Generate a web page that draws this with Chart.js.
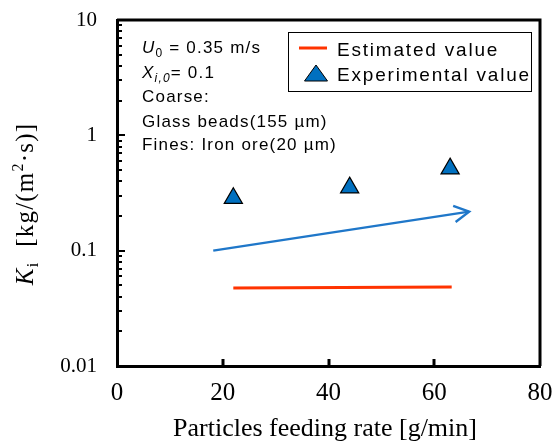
<!DOCTYPE html>
<html>
<head>
<meta charset="utf-8">
<script src="https://cdn.jsdelivr.net/npm/chart.js@4.4.1/dist/chart.umd.min.js"></script>
<style>
  html, body { margin: 0; padding: 0; background: #fff; overflow: hidden; }
  #wrap { width: 552px; height: 441px; position: relative; }
</style>
</head>
<body>
<div id="wrap"><canvas id="kiChart"></canvas></div>
<script>
const feedRates = [22, 44, 63];
const experimental = [0.285, 0.352, 0.514];
const estimatedX = [22, 63.3];
const estimatedY = [0.0475, 0.0485];
const arrowX = [18.2, 66.6];
const arrowY = [0.1, 0.218];
const xTicks = [0, 20, 40, 60, 80];
const yTicks = [0.01, 0.1, 1, 10];
const yTickLabels = ['0.01', '0.1', '1', '10'];

const serif = '"Liberation Serif", "Times New Roman", serif';
const sans = '"Liberation Sans", Arial, sans-serif';

// inward ticks, arrow head, legend box, annotation and axis titles
const decor = {
    id: 'decor',
    afterDraw(chart) {
        const c = chart.ctx, a = chart.chartArea;
        const xs = chart.scales.x, ys = chart.scales.y;
        c.save();
        c.strokeStyle = '#000';
        c.lineWidth = 2;
        for (let d = 0.01; d < 9; d *= 10) {
            for (let m = 1; m <= 9; m++) {
                const py = Math.round(ys.getPixelForValue(d * m));
                const len = m === 1 ? 8 : 5;
                c.beginPath();
                c.moveTo(a.left, py);
                c.lineTo(a.left + len, py);
                c.stroke();
            }
        }
        c.lineWidth = 3;
        xTicks.slice(1, -1).forEach(v => {
            const px = Math.round(xs.getPixelForValue(v));
            c.beginPath();
            c.moveTo(px, a.bottom);
            c.lineTo(px, a.bottom - 7);
            c.stroke();
        });

        // top and right frame
        c.beginPath();
        c.moveTo(a.left, a.top);
        c.lineTo(a.right, a.top);
        c.lineTo(a.right, a.bottom);
        c.stroke();

        // arrow head
        const x1 = xs.getPixelForValue(arrowX[0]), y1 = ys.getPixelForValue(arrowY[0]);
        const x2 = xs.getPixelForValue(arrowX[1]), y2 = ys.getPixelForValue(arrowY[1]);
        const ang = Math.atan2(y2 - y1, x2 - x1);
        c.strokeStyle = '#1f77c9';
        c.lineWidth = 2.4;
        c.beginPath();
        c.moveTo(x2 - 17 * Math.cos(ang - 0.5), y2 - 17 * Math.sin(ang - 0.5));
        c.lineTo(x2, y2);
        c.lineTo(x2 - 17 * Math.cos(ang + 0.5), y2 - 17 * Math.sin(ang + 0.5));
        c.stroke();

        // legend
        c.strokeStyle = '#000';
        c.lineWidth = 1;
        c.strokeRect(288.5, 32.5, 243, 59);
        c.strokeStyle = '#ff3300';
        c.lineWidth = 3;
        c.beginPath();
        c.moveTo(299, 48);
        c.lineTo(327, 48);
        c.stroke();
        c.fillStyle = '#0070c0';
        c.strokeStyle = '#000';
        c.lineWidth = 1;
        c.beginPath();
        c.moveTo(316, 65);
        c.lineTo(327.5, 81);
        c.lineTo(304.5, 81);
        c.closePath();
        c.fill();
        c.stroke();
        c.fillStyle = '#000';
        c.textAlign = 'left';
        c.textBaseline = 'alphabetic';
        c.font = '19px ' + sans;
        c.letterSpacing = '1.8px';
        c.fillText('Estimated value', 337, 56);
        c.fillText('Experimental value', 337, 81);

        // annotation
        c.letterSpacing = '1.2px';
        let x = 142;
        c.font = 'italic 17px ' + sans;
        c.fillText('U', x, 53); x += c.measureText('U').width;
        c.font = '12px ' + sans;
        c.fillText('0', x, 57); x += c.measureText('0').width;
        c.font = '17px ' + sans;
        c.fillText(' = 0.35 m/s', x, 53);
        x = 142;
        c.font = 'italic 17px ' + sans;
        c.fillText('X', x, 78); x += c.measureText('X').width;
        c.font = 'italic 12px ' + sans;
        c.fillText('i,0', x, 82); x += c.measureText('i,0').width;
        c.font = '17px ' + sans;
        c.fillText('= 0.1', x, 78);
        c.fillText('Coarse:', 142, 102);
        c.fillText('Glass beads(155 \u00b5m)', 142, 127);
        c.fillText('Fines: Iron ore(20 \u00b5m)', 142, 150);

        // y title
        c.save();
        c.translate(33, 204);
        c.rotate(-Math.PI / 2);
        c.letterSpacing = '1.2px';
        const parts = [
            ['italic 25px ' + serif, 'K', 0],
            ['16px ' + serif, 'i', 5],
            ['25px ' + serif, '  [kg/(m', 0],
            ['16px ' + serif, '2', -10],
            ['25px ' + serif, '\u00b7s)]', 0]
        ];
        let w = 0;
        parts.forEach(p => { c.font = p[0]; w += c.measureText(p[1]).width; });
        let px = -w / 2;
        parts.forEach(p => {
            c.font = p[0];
            c.fillText(p[1], px, p[2]);
            px += c.measureText(p[1]).width;
        });
        c.restore();

        // x title
        c.letterSpacing = '0px';
        c.font = '26px ' + serif;
        c.textAlign = 'center';
        c.fillText('Particles feeding rate [g/min]', 325, 436);
        c.restore();
    }
};

new Chart(document.getElementById('kiChart').getContext('2d'), {
    type: 'scatter',
    data: {
        datasets: [
            {
                label: 'Estimated value',
                type: 'line',
                data: estimatedX.map((x, i) => ({ x, y: estimatedY[i] })),
                borderColor: '#ff3300',
                borderWidth: 3,
                pointRadius: 0,
                fill: false
            },
            {
                label: 'Experimental value',
                data: feedRates.map((x, i) => ({ x, y: experimental[i] })),
                pointStyle: 'triangle',
                pointRadius: 10.5,
                backgroundColor: '#0070c0',
                borderColor: '#000',
                borderWidth: 1.2
            },
            {
                label: 'trend',
                type: 'line',
                data: arrowX.map((x, i) => ({ x, y: arrowY[i] })),
                borderColor: '#1f77c9',
                borderWidth: 2.4,
                pointRadius: 0,
                fill: false
            }
        ]
    },
    options: {
        responsive: true,
        maintainAspectRatio: false,
        animation: false,
        layout: { padding: { top: 20, right: 12, left: 0, bottom: 0 } },
        plugins: { legend: { display: false }, tooltip: { enabled: false } },
        scales: {
            x: {
                type: 'linear', min: 0, max: 80,
                afterBuildTicks: s => { s.ticks = xTicks.map(v => ({ value: v })); },
                ticks: { color: '#000', font: { family: serif, size: 25 }, padding: 12, maxRotation: 0 },
                grid: { display: false, drawTicks: false },
                border: { color: '#000', width: 3 },
                afterFit: s => { s.height = 75; s.paddingLeft = 0; s.paddingRight = 0; }
            },
            y: {
                type: 'logarithmic', min: 0.01, max: 10,
                afterBuildTicks: s => { s.ticks = yTicks.map(v => ({ value: v })); },
                ticks: {
                    color: '#000', font: { family: serif, size: 21 }, padding: 20,
                    callback: (v) => yTickLabels[yTicks.indexOf(v)] ?? ''
                },
                grid: { display: false, drawTicks: false },
                border: { color: '#000', width: 3 },
                afterFit: s => { s.width = 117; s.paddingTop = 0; s.paddingBottom = 0; }
            }
        }
    },
    plugins: [decor]
});
</script>
</body>
</html>
